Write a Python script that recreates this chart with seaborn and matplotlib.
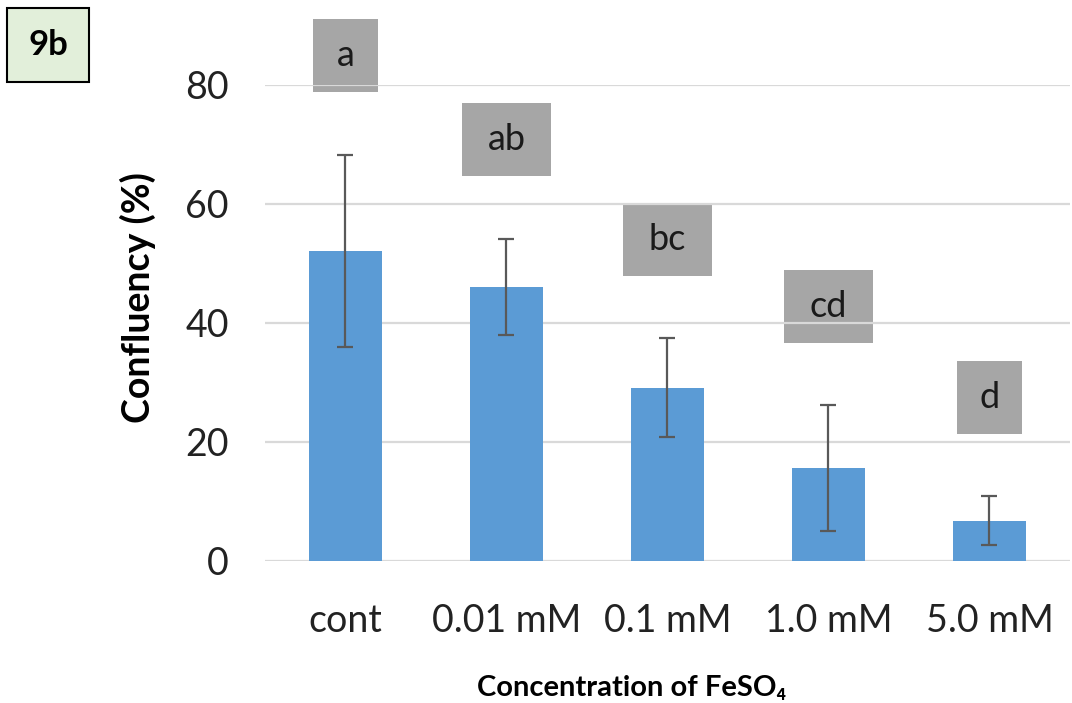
import numpy as np
import pandas as pd
import matplotlib
matplotlib.use("Agg")
import matplotlib.pyplot as plt
from matplotlib.patches import Rectangle
import seaborn as sns

# values
concentrations = ["cont", "0.01 mM", "0.1 mM", "1.0 mM", "5.0 mM"]
confluency = [52.1, 46.1, 29.1, 15.6, 6.8]
sd = [16.2, 8.1, 8.3, 10.6, 4.1]
letters = ["a", "ab", "bc", "cd", "d"]

df = pd.DataFrame({"conc": concentrations, "confluency": confluency})

sns.set_theme(style="white")
plt.rcParams["font.family"] = ["Lato", "DejaVu Sans"]

fig = plt.figure(figsize=(10.72, 7.03), dpi=100)
ax = fig.add_axes([0.2472, 0.2020, 0.7509, 0.6771])

sns.barplot(data=df, x="conc", y="confluency", color="#5b9bd5", saturation=1,
            width=0.45, errorbar=None, ax=ax, zorder=2)
for p in ax.patches:
    p.set_edgecolor("none")

xpos = np.arange(len(concentrations))
ax.errorbar(xpos, confluency, yerr=sd, fmt="none", ecolor="#595959",
            elinewidth=1.6, capsize=6, capthick=1.6, zorder=3)

ax.set_ylim(0, 80)
ax.set_xlim(-0.5, 4.5)
ax.set_yticks([0, 20, 40, 60, 80])
ax.set_axisbelow(True)
ax.yaxis.grid(True, color="#d9d9d9", linewidth=1.6, zorder=1)
for s in ax.spines.values():
    s.set_visible(False)
ax.tick_params(axis="both", length=0, labelsize=27, colors="#222222")
ax.tick_params(axis="x", pad=30)
ax.tick_params(axis="y", pad=26)

ax.set_xlabel("Concentration of FeSO\u2084", fontsize=21, fontweight="bold",
              color="black", va="center")
ax.xaxis.set_label_coords(0.455, -0.267)
ax.set_ylabel("Confluency (%)", fontsize=27, fontweight="bold",
              color="black", va="center")
ax.yaxis.set_label_coords(-0.158, 0.553)

# significance letter boxes
for i, lab in enumerate(letters):
    yc = confluency[i] + sd[i] + 16.6
    w = 0.25 + 0.15 * len(lab)
    h = 12.3
    ax.add_patch(Rectangle((i - w / 2, yc - h / 2), w, h, facecolor="#a6a6a6",
                           edgecolor="none", zorder=0.4, clip_on=False))
    ax.text(i, yc, lab, ha="center", va="center", fontsize=26, color="#1a1a1a",
            zorder=4, clip_on=False)

# panel tag
fig.text(48 / 1072, 1 - 45 / 703, "9b", ha="center", va="center", fontsize=25,
         fontweight="bold", color="black",
         bbox=dict(boxstyle="square,pad=0.6", facecolor="#e2efda",
                   edgecolor="black", linewidth=1.5))

fig.savefig("out.png", dpi=100)
